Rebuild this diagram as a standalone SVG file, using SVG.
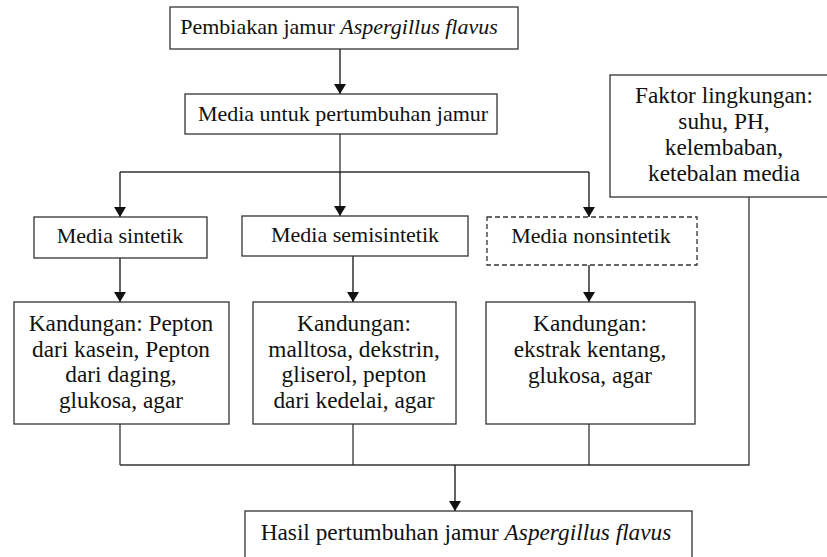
<svg xmlns="http://www.w3.org/2000/svg" width="827" height="557" viewBox="0 0 827 557">
<defs>
<marker id="ah" viewBox="0 0 10 12" refX="10" refY="6" markerWidth="10" markerHeight="12" markerUnits="userSpaceOnUse" orient="auto">
<path d="M0,0 L10,6 L0,12 Z" fill="#111"/>
</marker>
<style>
.box{fill:#fff;stroke:#333;stroke-width:1.3}
.dash{fill:#fff;stroke:#333;stroke-width:1.3;stroke-dasharray:5,3}
.t{font-family:"Liberation Serif","Times New Roman",serif;font-size:22px;fill:#111;text-anchor:middle}
.L{font-size:23.3px}
.c{fill:none;stroke:#333;stroke-width:1.3}
.a{fill:none;stroke:#111;stroke-width:1.3;marker-end:url(#ah)}
</style>
</defs>
<rect width="827" height="557" fill="#fff"/>
<g id="connectors">
<line class="a" x1="340" y1="49" x2="340" y2="94"/>
<polyline class="c" points="340,134 340,172"/>
<line class="c" x1="120" y1="172" x2="589" y2="172"/>
<line class="a" x1="120" y1="172" x2="120" y2="217"/>
<line class="a" x1="340" y1="172" x2="340" y2="216"/>
<line class="a" x1="589" y1="172" x2="589" y2="217"/>
<line class="a" x1="120" y1="258" x2="120" y2="302"/>
<line class="a" x1="353" y1="256" x2="353" y2="302"/>
<line class="a" x1="589" y1="265" x2="589" y2="302"/>
<line class="c" x1="120" y1="424" x2="120" y2="465"/>
<line class="c" x1="353" y1="424" x2="353" y2="465"/>
<line class="c" x1="589" y1="424" x2="589" y2="465"/>
<polyline class="c" points="749,197 749,465 120,465"/>
<line class="a" x1="455" y1="465" x2="455" y2="511"/>
</g>
<g id="n1">
<rect class="box" x="170" y="7" width="348" height="42"/>
<text class="t" x="339" y="34">Pembiakan jamur <tspan font-style="italic">Aspergillus flavus</tspan></text>
</g>
<g id="n2">
<rect class="box" x="185" y="94" width="312" height="40"/>
<text class="t" x="343" y="121">Media untuk pertumbuhan jamur</text>
</g>
<g id="n3">
<rect class="box" x="610" y="75" width="230" height="122"/>
<text class="t L" x="724" y="103">Faktor lingkungan:</text>
<text class="t L" x="724" y="129">suhu, PH,</text>
<text class="t L" x="724" y="155">kelembaban,</text>
<text class="t L" x="724" y="181">ketebalan media</text>
</g>
<g id="n4">
<rect class="box" x="34" y="217" width="173" height="41"/>
<text class="t" x="120" y="243">Media sintetik</text>
</g>
<g id="n5">
<rect class="box" x="242" y="216" width="226" height="40"/>
<text class="t" x="355" y="242">Media semisintetik</text>
</g>
<g id="n6">
<rect class="dash" x="487" y="217" width="210" height="48"/>
<text class="t" x="591" y="243">Media nonsintetik</text>
</g>
<g id="n7">
<rect class="box" x="14" y="302" width="215" height="122"/>
<text class="t L" x="121" y="331">Kandungan: Pepton</text>
<text class="t L" x="121" y="357">dari kasein, Pepton</text>
<text class="t L" x="121" y="382">dari daging,</text>
<text class="t L" x="121" y="408">glukosa, agar</text>
</g>
<g id="n8">
<rect class="box" x="253" y="302" width="203" height="122"/>
<text class="t L" x="354" y="331">Kandungan:</text>
<text class="t L" x="354" y="357">malltosa, dekstrin,</text>
<text class="t L" x="354" y="382">gliserol, pepton</text>
<text class="t L" x="354" y="408">dari kedelai, agar</text>
</g>
<g id="n9">
<rect class="box" x="486" y="302" width="209" height="122"/>
<text class="t L" x="590" y="331">Kandungan:</text>
<text class="t L" x="590" y="357">ekstrak kentang,</text>
<text class="t L" x="590" y="383">glukosa, agar</text>
</g>
<g id="n10">
<rect class="box" x="245" y="511" width="447" height="60"/>
<text class="t L" x="466" y="540">Hasil pertumbuhan jamur <tspan font-style="italic">Aspergillus flavus</tspan></text>
</g>
</svg>
